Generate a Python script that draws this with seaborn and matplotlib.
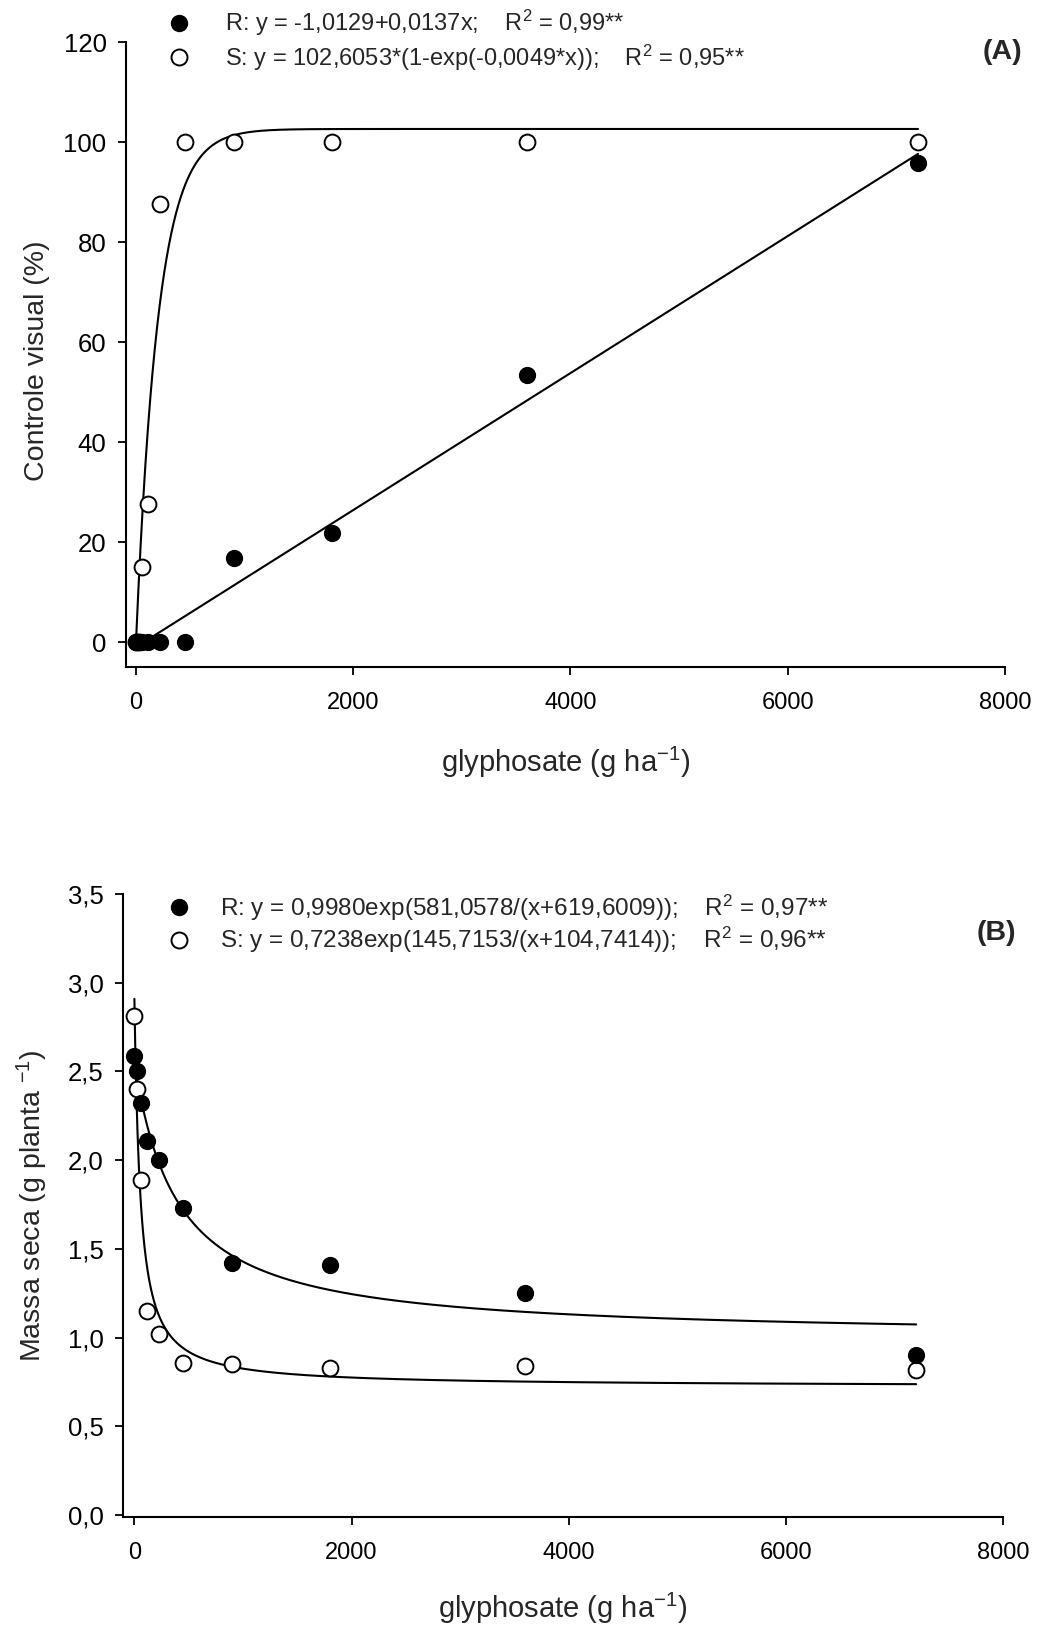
import numpy as np
import pandas as pd
import matplotlib
matplotlib.use("Agg")
import matplotlib.pyplot as plt
from matplotlib.lines import Line2D
import seaborn as sns

# Glyphosate doses (g ha-1)
doses = [0, 28.125, 56.25, 112.5, 225, 450, 900, 1800, 3600, 7200]

# (A) visual control (%)
control_R = [0, 0, 0, 0, 0, 0, 16.7, 21.7, 53.4, 95.8]
control_S = [0, 0, 15.0, 27.5, 87.6, 100, 100, 100, 100, 100]

# (B) dry mass (g planta-1)
mass_R = [2.59, 2.50, 2.32, 2.11, 2.00, 1.73, 1.42, 1.41, 1.25, 0.90]
mass_S = [2.81, 2.40, 1.89, 1.15, 1.02, 0.86, 0.85, 0.83, 0.84, 0.82]

legend_A = [r"R: y = -1,0129+0,0137x;    R$^\mathregular{2}$ = 0,99**",
            r"S: y = 102,6053*(1-exp(-0,0049*x));    R$^\mathregular{2}$ = 0,95**"]
legend_B = [r"R: y = 0,9980exp(581,0578/(x+619,6009));    R$^\mathregular{2}$ = 0,97**",
            r"S: y = 0,7238exp(145,7153/(x+104,7414));    R$^\mathregular{2}$ = 0,96**"]

sns.set_theme(style="ticks")
plt.rcParams["font.family"] = ["Liberation Sans", "DejaVu Sans"]
plt.rcParams["mathtext.fontset"] = "custom"
plt.rcParams["mathtext.rm"] = "Liberation Sans"
plt.rcParams["mathtext.it"] = "Liberation Sans:italic"
plt.rcParams["mathtext.bf"] = "Liberation Sans:bold"
plt.rcParams["axes.linewidth"] = 1.5
plt.rcParams["xtick.major.width"] = 1.3
plt.rcParams["ytick.major.width"] = 1.3
plt.rcParams["xtick.major.size"] = 6
plt.rcParams["ytick.major.size"] = 6

W, H = 1038, 1626
fig = plt.figure(figsize=(W / 100, H / 100), dpi=100)
axA = fig.add_axes([126 / W, 1 - 667 / H, (1005 - 126) / W, (667 - 42) / H])
axB = fig.add_axes([123 / W, 1 - 1517 / H, (1003 - 123) / W, (1517 - 894) / H])

xfit = np.linspace(0, 7200, 2000)
fit_A = pd.DataFrame({
    "x": np.concatenate([xfit, xfit]),
    "y": np.concatenate([-1.0129 + 0.0137 * xfit,
                         102.6053 * (1 - np.exp(-0.0049 * xfit))]),
    "g": ["R"] * len(xfit) + ["S"] * len(xfit),
})
fit_B = pd.DataFrame({
    "x": np.concatenate([xfit, xfit]),
    "y": np.concatenate([0.9980 * np.exp(581.0578 / (xfit + 619.6009)),
                         0.7238 * np.exp(145.7153 / (xfit + 104.7414))]),
    "g": ["R"] * len(xfit) + ["S"] * len(xfit),
})

ms = 130
for ax, fit, yR, yS in [(axA, fit_A, control_R, control_S),
                        (axB, fit_B, mass_R, mass_S)]:
    sns.lineplot(data=fit, x="x", y="y", units="g", estimator=None,
                 color="black", lw=1.5, ax=ax, legend=False)
    sns.scatterplot(x=doses, y=yS, ax=ax, s=ms, marker="o",
                    facecolor="white", edgecolor="black", linewidth=1.4,
                    zorder=3, clip_on=False)
    sns.scatterplot(x=doses, y=yR, ax=ax, s=ms, marker="o",
                    color="black", edgecolor="black", linewidth=1.0,
                    zorder=4, clip_on=False)
    ax.set_xticks([0, 2000, 4000, 6000, 8000])
    ax.tick_params(colors="black", direction="out")
    ax.tick_params(axis="x", pad=12, labelsize=17)
    ax.tick_params(axis="y", pad=8, labelsize=18.5)
    sns.despine(ax=ax)
    for s in ["left", "bottom"]:
        ax.spines[s].set_color("black")

axA.set_xlim(-92, 8000)
axA.set_ylim(-5, 120)
axA.set_yticks([0, 20, 40, 60, 80, 100, 120])
axA.set_xlabel(r"glyphosate (g ha$^\mathregular{-1}$)", fontsize=21, labelpad=22)
axA.set_ylabel("Controle visual (%)", fontsize=20.5)
axA.yaxis.set_label_coords(-0.0865, 0.49)

axB.set_xlim(-105, 8000)
axB.set_ylim(-0.01, 3.5)
axB.set_yticks(np.arange(0, 3.51, 0.5))
axB.set_yticklabels([f"{v:.1f}".replace(".", ",") for v in np.arange(0, 3.51, 0.5)])
axB.set_xlabel(r"glyphosate (g ha$^\mathregular{-1}$)", fontsize=21, labelpad=19)
axB.set_ylabel(r"Massa seca (g planta $^\mathregular{-1}$)", fontsize=20.5)
axB.yaxis.set_label_coords(-0.083, 0.5)


def add_key(labels, y_mid, x_left, spacing, size, pad):
    handles = [
        Line2D([], [], marker="o", ls="", ms=11.5, mfc="black", mec="black"),
        Line2D([], [], marker="o", ls="", ms=11.5, mfc="white", mec="black", mew=1.4),
    ]
    fig.legend(handles, labels, loc="center left",
               bbox_to_anchor=(x_left / W, 1 - y_mid / H),
               frameon=False, fontsize=size, handlelength=1.0,
               handletextpad=pad, labelspacing=spacing, borderpad=0,
               borderaxespad=0)


add_key(legend_A, 40.5, 167, 0.17, 17, 1.47)
add_key(legend_B, 924, 166.5, 0.08, 17.5, 1.2)

fig.text(1002 / W, 1 - 52 / H, "(A)", ha="center", va="center",
         fontsize=20.5, fontweight="bold")
fig.text(996.5 / W, 1 - 933 / H, "(B)", ha="center", va="center",
         fontsize=20.5, fontweight="bold")

fig.savefig("out.png", dpi=100, facecolor="white")
